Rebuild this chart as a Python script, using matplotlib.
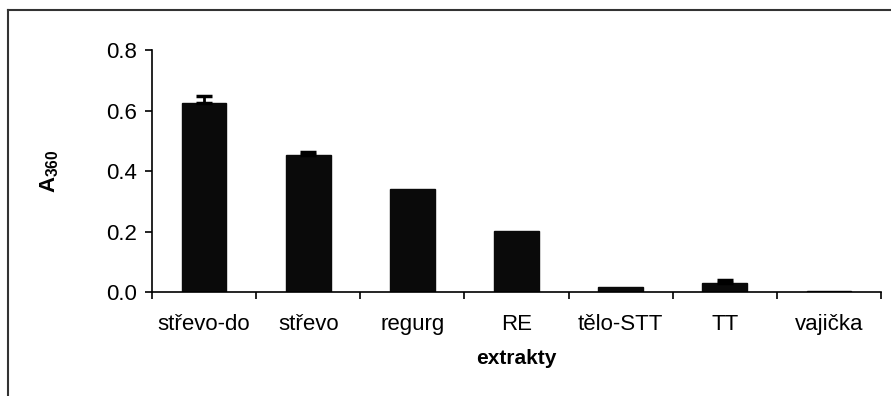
import numpy as np
import matplotlib.pyplot as plt
from matplotlib.lines import Line2D

plt.rcParams['font.family'] = ['Liberation Sans', 'DejaVu Sans']
plt.rcParams['mathtext.fontset'] = 'custom'
plt.rcParams['mathtext.rm'] = 'Liberation Sans'
plt.rcParams['mathtext.bf'] = 'Liberation Sans:bold'

# data
extrakty = ['střevo-do', 'střevo', 'regurg', 'RE', 'tělo-STT', 'TT', 'vajička']
a360 = [0.626, 0.452, 0.340, 0.203, 0.016, 0.031, 0.002]
err = [0.022, 0.010, 0.000, 0.000, 0.000, 0.008, 0.000]

fig = plt.figure(figsize=(8.91, 3.96), dpi=100)
ax = fig.add_axes([0.1706, 0.2626, 0.8182, 0.6111])

x = np.arange(len(extrakty))
ax.bar(x, a360, width=0.43, color='#0a0a0a', edgecolor='#0a0a0a', zorder=2)

# only upward error bars, and only where there is one
has_err = np.array(err) > 0
ax.errorbar(x[has_err], np.array(a360)[has_err],
            yerr=[np.zeros(has_err.sum()), np.array(err)[has_err]], fmt='none',
            ecolor='black', elinewidth=2, capsize=6, capthick=2.5, zorder=3)

ax.set_xlim(-0.5, len(extrakty) - 0.5)
ax.set_ylim(0, 0.8)
ax.set_yticks([0.0, 0.2, 0.4, 0.6, 0.8])
ax.set_yticklabels(['0.0', '0.2', '0.4', '0.6', '0.8'])

# category labels centred, ticks on the category boundaries
ax.set_xticks(x)
ax.set_xticklabels(extrakty)
ax.tick_params(axis='x', which='major', length=0, pad=16)
ax.set_xticks(np.arange(len(extrakty) + 1) - 0.5, minor=True)
ax.tick_params(axis='x', which='minor', length=5, width=1.2, direction='out')
ax.tick_params(axis='y', length=5, width=1.2, direction='out', pad=6)
ax.tick_params(labelsize=16)

for s in ['top', 'right']:
    ax.spines[s].set_visible(False)
for s in ['left', 'bottom']:
    ax.spines[s].set_linewidth(1.2)

ax.set_xlabel('extrakty', fontsize=15, fontweight='bold', labelpad=10)
ax.set_ylabel(r'$\mathbf{A_{360}}$', fontsize=16, labelpad=32)

# frame lines at top and left of the picture
fig.add_artist(Line2D([0.009, 0.009], [0.0, 0.975], transform=fig.transFigure,
                      color='#333333', lw=1.5))
fig.add_artist(Line2D([0.009, 1.0], [0.975, 0.975], transform=fig.transFigure,
                      color='#333333', lw=1.5))

fig.savefig('out.png', dpi=100)
